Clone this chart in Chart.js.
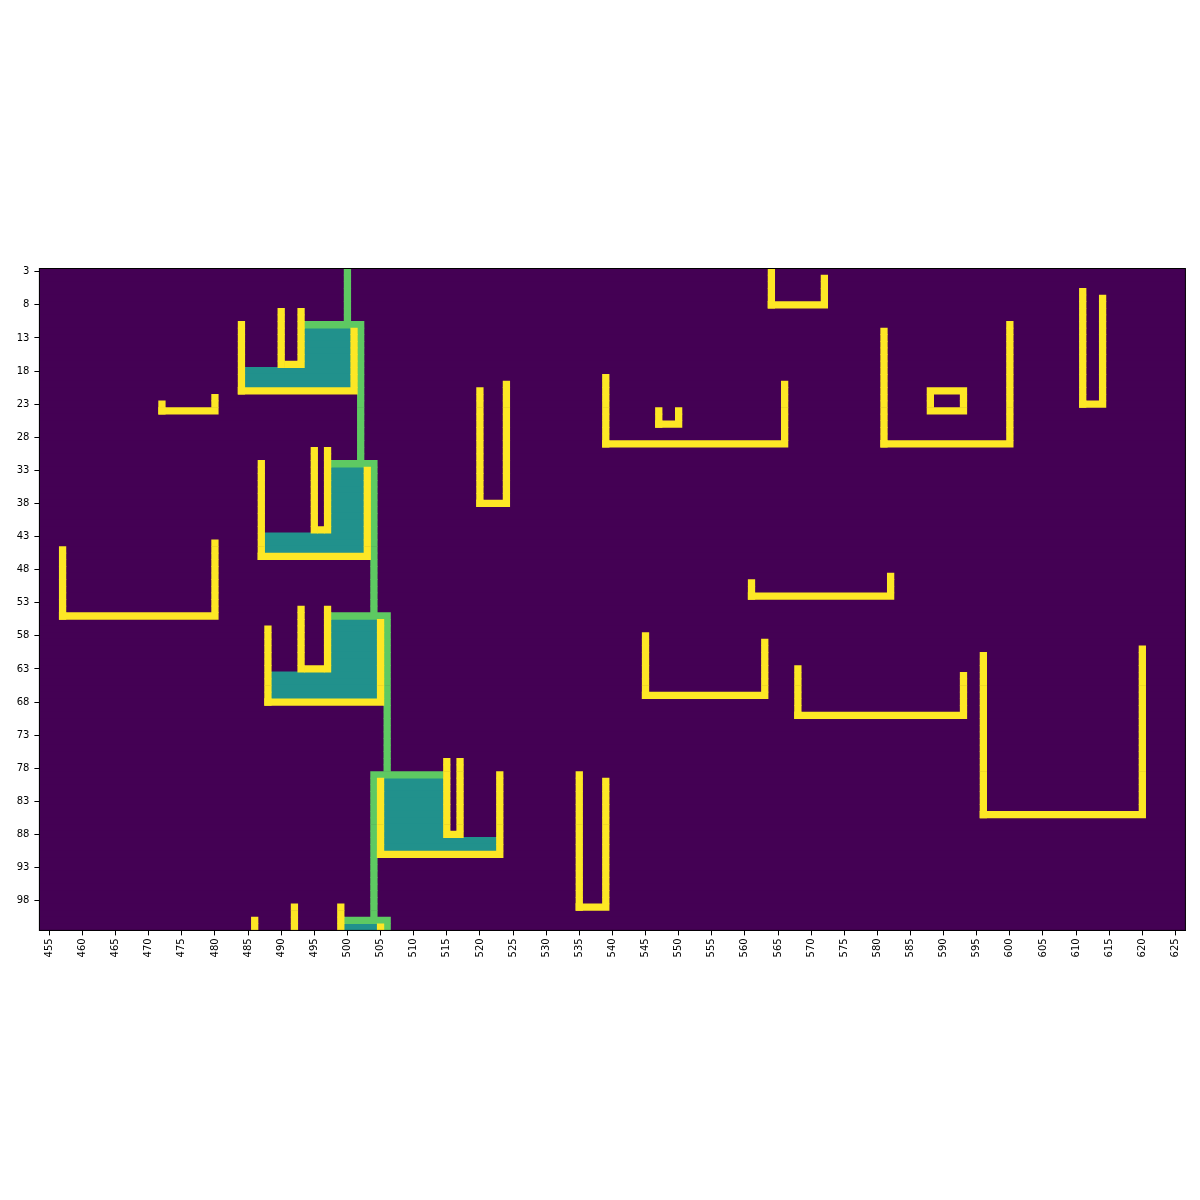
<!DOCTYPE html>
<html>
<head>
<meta charset="utf-8">
<script src="https://cdn.jsdelivr.net/npm/chart.js@4.4.1/dist/chart.umd.min.js"></script>
<style>
  html, body { margin: 0; background: #fff; }
  #wrap { width: 1200px; height: 1200px; }
</style>
</head>
<body>
<div id="wrap"><canvas id="grafico"></canvas></div>
<script>
// grid extent (cell indices, inclusive)
const colFirst = 454, colLast = 626;
const rowFirst = 3, rowLast = 102;

const xTicks = [455, 460, 465, 470, 475, 480, 485, 490, 495, 500, 505, 510, 515, 520, 525, 530, 535, 540,
                545, 550, 555, 560, 565, 570, 575, 580, 585, 590, 595, 600, 605, 610, 615, 620, 625];
const yTicks = [3, 8, 13, 18, 23, 28, 33, 38, 43, 48, 53, 58, 63, 68, 73, 78, 83, 88, 93, 98];

// blocks of cells: [colFrom, colTo, rowFrom, rowTo]
const greenCells = [
  [500, 500, 3, 10], [494, 502, 11, 11], [502, 502, 12, 31], [498, 504, 32, 32],
  [504, 504, 33, 54], [498, 506, 55, 55], [506, 506, 56, 78], [504, 514, 79, 79],
  [504, 504, 80, 100], [500, 506, 101, 101], [506, 506, 102, 102]
];

const tealCells = [
  [494, 500, 12, 17], [485, 500, 18, 20],
  [498, 502, 33, 42], [488, 502, 43, 45],
  [498, 504, 56, 63], [489, 504, 64, 67],
  [506, 514, 80, 88], [506, 522, 89, 90],
  [500, 504, 102, 102]
];

const yellowCells = [
  // steps
  [484, 484, 11, 21], [484, 501, 21, 21], [501, 501, 12, 20],
  [490, 490, 9, 17], [493, 493, 9, 17], [491, 492, 17, 17],
  [487, 487, 32, 46], [487, 503, 46, 46], [503, 503, 33, 45],
  [495, 495, 30, 42], [497, 497, 30, 42], [496, 496, 42, 42],
  [488, 488, 57, 68], [488, 505, 68, 68], [505, 505, 56, 67],
  [493, 493, 54, 63], [497, 497, 54, 63], [494, 496, 63, 63],
  [505, 505, 80, 91], [505, 523, 91, 91], [523, 523, 79, 90],
  [515, 515, 77, 88], [517, 517, 77, 88], [516, 516, 88, 88],
  [486, 486, 101, 102], [492, 492, 99, 102], [499, 499, 99, 102], [505, 505, 102, 102],
  // open boxes
  [472, 472, 23, 24], [472, 480, 24, 24], [480, 480, 22, 23],
  [457, 457, 45, 55], [457, 480, 55, 55], [480, 480, 44, 54],
  [520, 520, 21, 38], [520, 524, 38, 38], [524, 524, 20, 37],
  [539, 539, 19, 29], [539, 566, 29, 29], [566, 566, 20, 28],
  [547, 547, 24, 26], [547, 550, 26, 26], [550, 550, 24, 25],
  [564, 564, 3, 8], [564, 572, 8, 8], [572, 572, 4, 7],
  [581, 581, 12, 29], [581, 600, 29, 29], [600, 600, 11, 28],
  [588, 593, 21, 21], [588, 593, 24, 24], [588, 588, 22, 23], [593, 593, 22, 23],
  [611, 611, 6, 23], [611, 614, 23, 23], [614, 614, 7, 22],
  [561, 561, 50, 52], [561, 582, 52, 52], [582, 582, 49, 51],
  [545, 545, 58, 67], [545, 563, 67, 67], [563, 563, 59, 66],
  [568, 568, 63, 70], [568, 593, 70, 70], [593, 593, 64, 69],
  [596, 596, 61, 85], [596, 620, 85, 85], [620, 620, 60, 84],
  [535, 535, 79, 99], [535, 539, 99, 99], [539, 539, 80, 98]
];

// one floating bar per row of each block
function toBars(blocks) {
  const out = [];
  blocks.forEach(([c0, c1, r0, r1]) => {
    for (let r = r0; r <= r1; r++) out.push({ y: r, x: [c0 - 0.5, c1 + 0.5] });
  });
  return out;
}

const emptyCells = [[colFirst, colLast, rowFirst, rowLast]];
const emptyColor = '#440154';

// purple under the cells so no seam shows between rows, black frame on top
const frame = {
  id: 'frame',
  beforeDatasetsDraw(chart) {
    const { ctx, chartArea: a } = chart;
    ctx.save();
    ctx.fillStyle = emptyColor;
    ctx.fillRect(a.left, a.top, a.right - a.left, a.bottom - a.top);
    ctx.restore();
  },
  afterDraw(chart) {
    const { ctx, chartArea: a } = chart;
    ctx.save();
    ctx.strokeStyle = '#000';
    ctx.lineWidth = 1;
    ctx.strokeRect(a.left, a.top, a.right - a.left, a.bottom - a.top);
    ctx.restore();
  }
};

const tickFont = { family: 'DejaVu Sans', size: 10 };

const ctx = document.getElementById('grafico');

new Chart(ctx, {
  type: 'bar',
  data: {
    datasets: [
      { label: 'empty', data: toBars(emptyCells), backgroundColor: emptyColor, order: 3 },
      { label: 'fill', data: toBars(tealCells), backgroundColor: '#21918c', inflateAmount: 0.7, order: 2 },
      { label: 'path', data: toBars(greenCells), backgroundColor: '#5ec962', order: 1 },
      { label: 'wall', data: toBars(yellowCells), backgroundColor: '#fde725', order: 0 }
    ]
  },
  options: {
    indexAxis: 'y',
    responsive: true,
    maintainAspectRatio: false,
    animation: false,
    events: [],
    layout: { padding: { left: 0, top: 268.5, right: 14.6, bottom: 209.6 } },
    datasets: {
      bar: { grouped: false, barPercentage: 1, categoryPercentage: 1, borderWidth: 0 }
    },
    plugins: {
      legend: { display: false },
      tooltip: { enabled: false }
    },
    scales: {
      x: {
        type: 'linear',
        position: 'bottom',
        min: colFirst - 0.5,
        max: colLast + 0.5,
        bounds: 'data',
        offset: false,
        grid: { drawOnChartArea: false, offset: false, tickLength: 5, color: '#000' },
        border: { color: '#000' },
        ticks: { font: tickFont, color: '#000', minRotation: 90, maxRotation: 90, padding: 3, autoSkip: false },
        afterBuildTicks: s => { s.ticks = xTicks.map(v => ({ value: v })); },
        afterFit: s => { s.height = 60; }
      },
      y: {
        type: 'linear',
        reverse: true,
        min: rowFirst - 0.5,
        max: rowLast + 0.5,
        bounds: 'data',
        offset: false,
        grid: { drawOnChartArea: false, offset: false, tickLength: 5, color: '#000' },
        border: { color: '#000' },
        ticks: { font: tickFont, color: '#000', padding: 5, autoSkip: false },
        afterBuildTicks: s => { s.ticks = yTicks.map(v => ({ value: v })); },
        afterFit: s => { s.width = 39.4; }
      }
    }
  },
  plugins: [frame]
});
</script>
</body>
</html>
